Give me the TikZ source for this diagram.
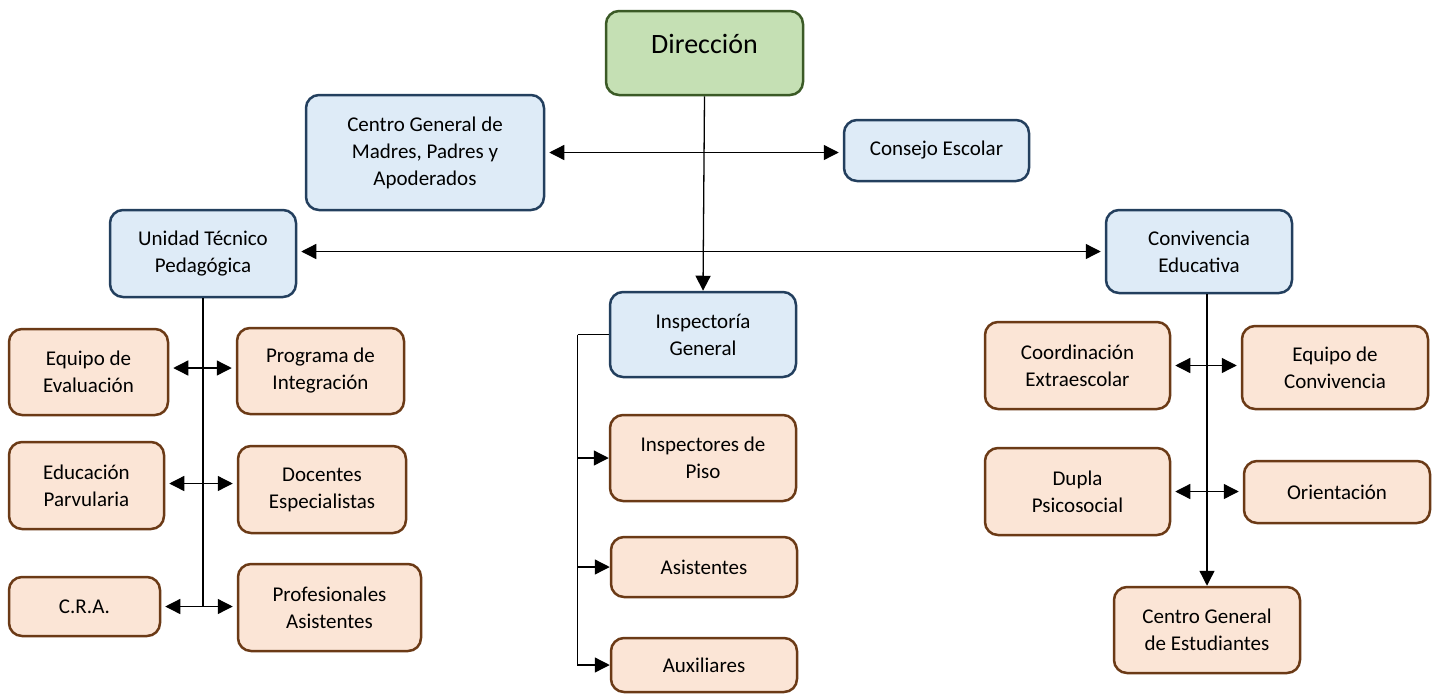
\documentclass[tikz,border=0pt]{standalone}
\usepackage{fontspec}
\setmainfont{Carlito}
\usetikzlibrary{arrows.meta}
\definecolor{dirfill}{HTML}{C5E0B4}
\definecolor{dirline}{HTML}{3B5A26}
\definecolor{bluefill}{HTML}{DEEBF7}
\definecolor{blueline}{HTML}{233F5E}
\definecolor{orgfill}{HTML}{FBE5D6}
\definecolor{orgline}{HTML}{6B3A16}
\begin{document}
\begin{tikzpicture}[x=1pt, y=-1pt, line width=1.3pt,
    box/.style={draw, rounded corners=13pt, line width=2.5pt, align=center,
      inner sep=0pt, font=\fontsize{21}{27}\selectfont},
    dirbox/.style={box, fill=dirfill, draw=dirline, font=\fontsize{28}{34}\selectfont},
    mainbox/.style={box, fill=bluefill, draw=blueline},
    subbox/.style={box, fill=orgfill, draw=orgline},
    tip/.style={-{Triangle[length=15pt,width=15pt]}},
    both/.style={{Triangle[length=15pt,width=15pt]}-{Triangle[length=15pt,width=15pt]},
      shorten <=4pt, shorten >=4pt}]
  \useasboundingbox (0,0) rectangle (1438,694);

  \node [dirbox, minimum width=197, minimum height=84, text depth=18pt] (dir) at (704.5,53) {Dirección};

  \node [mainbox, minimum width=238, minimum height=115] (cgpa) at (425,152.5)
    {Centro General de\\Madres, Padres y\\Apoderados};
  \node [mainbox, minimum width=185, minimum height=61] (cesc) at (936.5,150.5) {Consejo Escolar};
  \node [mainbox, minimum width=186, minimum height=87] (utp) at (203,253.5) {Unidad Técnico\\Pedagógica};
  \node [mainbox, minimum width=186, minimum height=83] (conv) at (1199,251.5) {Convivencia\\Educativa};
  \node [mainbox, minimum width=186, minimum height=85] (insp) at (703,334.5) {Inspectoría\\General};

  \node [subbox, minimum width=186, minimum height=86] (ipiso) at (703,458) {Inspectores de\\Piso};
  \node [subbox, minimum width=186, minimum height=60] (asis) at (704,567) {Asistentes};
  \node [subbox, minimum width=186, minimum height=54] (auxi) at (704,665) {Auxiliares};

  \node [subbox, minimum width=159, minimum height=86] (eqev) at (88.5,372) {Equipo de\\Evaluación};
  \node [subbox, minimum width=167, minimum height=86] (prog) at (320.5,371) {Programa de\\Integración};
  \node [subbox, minimum width=155, minimum height=87] (edpa) at (86.5,485.5) {Educación\\Parvularia};
  \node [subbox, minimum width=168, minimum height=87] (doce) at (322,489.5) {Docentes\\Especialistas};
  \node [subbox, minimum width=151, minimum height=59] (cra) at (84.5,606.5) {C.R.A.};
  \node [subbox, minimum width=183, minimum height=87] (prof) at (329.5,607.5) {Profesionales\\Asistentes};

  \node [subbox, minimum width=185, minimum height=87] (coex) at (1077.5,365.5) {Coordinación\\Extraescolar};
  \node [subbox, minimum width=186, minimum height=83] (eqco) at (1335,367.5) {Equipo de\\Convivencia};
  \node [subbox, minimum width=185, minimum height=87] (dupl) at (1077.5,491.5) {Dupla\\Psicosocial};
  \node [subbox, minimum width=186, minimum height=62] (orie) at (1337,492) {Orientación};
  \node [subbox, minimum width=186, minimum height=86] (cgest) at (1207,630) {Centro General\\de Estudiantes};

  \draw [both] (cgpa.east) -- (cgpa.east -| cesc.west);
  \draw [both] ([yshift=2pt]utp.east) -- ([yshift=2pt]utp.east -| conv.west);
  \draw [tip] (dir.south) -- (insp.north);

  \coordinate (itrunk) at ([xshift=-31pt]insp.west);
  \draw (insp.west) -- (itrunk);
  \foreach \n in {ipiso, asis, auxi}
    \draw [tip] (itrunk) |- (\n.west);

  \draw (utp.south) -- (utp.south |- cra.east);
  \foreach \a/\b/\s in {eqev/prog/4, edpa/doce/2, cra/prof/0}
    \draw [both] ([yshift=\s pt]\a.east) -- ([yshift=\s pt]\a.east -| \b.west);

  \draw [tip] (conv.south -| cgest.north) -- (cgest.north);
  \foreach \a/\b in {coex/eqco, dupl/orie}
    \draw [both] (\a.east) -- (\a.east -| \b.west);
\end{tikzpicture}
\end{document}
